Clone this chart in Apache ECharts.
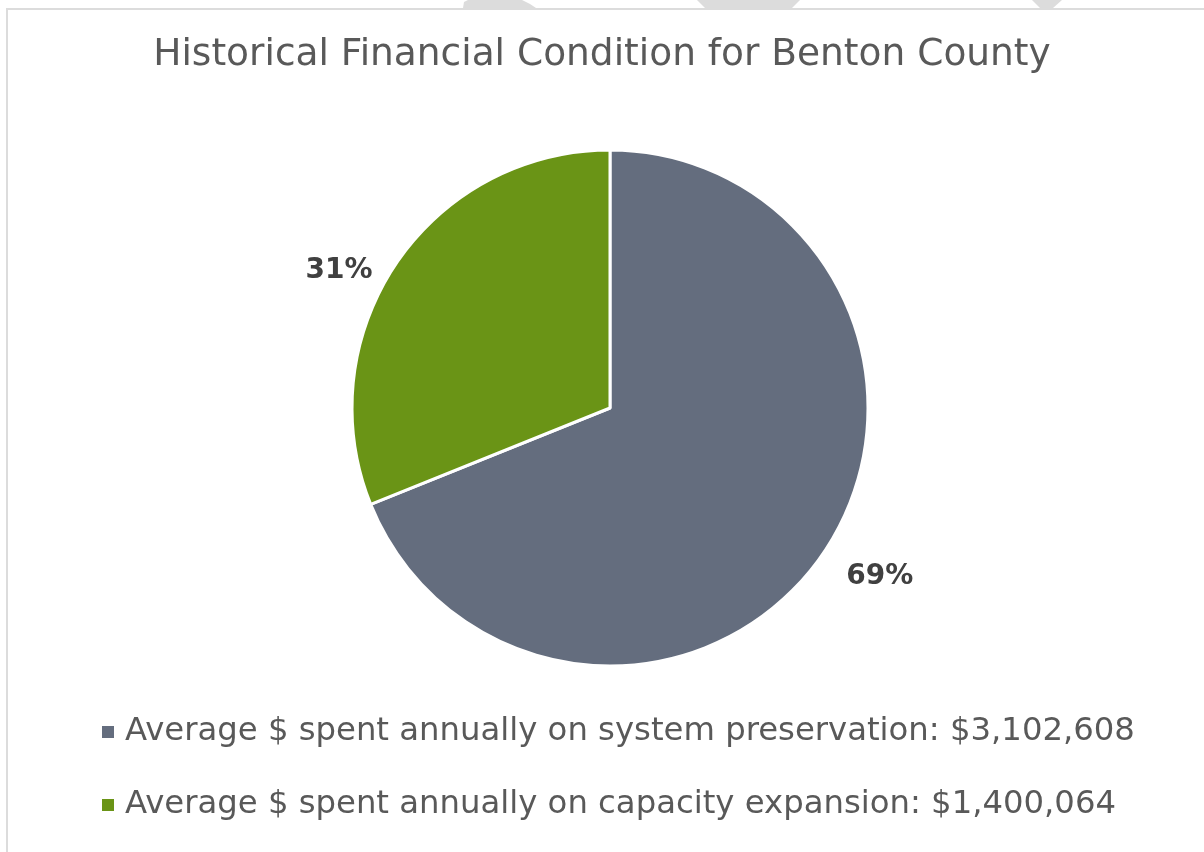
<!DOCTYPE html>
<html>
<head>
<meta charset="utf-8">
<style>
  html, body { margin: 0; padding: 0; background: #ffffff; }
  #chart { width: 1204px; height: 852px; }
</style>
<script src="https://cdn.jsdelivr.net/npm/echarts@6/dist/echarts.min.js"></script>
</head>
<body>
<div id="chart"></div>
<script>
// Spending categories and their annual averages (USD)
const categories = [
  'Average $ spent annually on system preservation: $3,102,608',
  'Average $ spent annually on capacity expansion: $1,400,064'
];
const amounts = [3102608, 1400064];
const sliceColors = ['#646d7e', '#6a9416'];
const titleText = 'Historical Financial Condition for Benton County';

const FONT = '"DejaVu Sans", Verdana, sans-serif';

// Per-slice label placement around the pie edge
const labelLines = [
  { length: 26, length2: 0 },
  { length: 2, length2: 14 }
];
const labelShift = [
  { dx: -4, dy: 10 },
  { dx: -3, dy: 8 }
];

const chart = echarts.init(document.getElementById('chart'), null, { renderer: 'canvas' });

chart.setOption({
  backgroundColor: '#ffffff',
  animation: false,
  title: {
    text: titleText,
    left: 'center',
    top: 31,
    textStyle: { fontFamily: FONT, fontSize: 37.5, fontWeight: 'normal', color: '#595959' }
  },
  legend: {
    orient: 'vertical',
    left: 100,
    top: 712,
    padding: 0,
    icon: 'rect',
    itemWidth: 14,
    itemHeight: 14,
    itemGap: 33,
    selectedMode: false,
    textStyle: {
      fontFamily: FONT,
      fontSize: 32.3,
      lineHeight: 40,
      color: '#595959',
      padding: [0, 0, 0, 5]
    },
    data: categories
  },
  graphic: [
    // Outer frame of the chart area
    {
      type: 'rect',
      z: -1,
      shape: { x: 7, y: 9, width: 1400, height: 1000 },
      style: { fill: '#ffffff', stroke: '#dcdcdc', lineWidth: 2 }
    },
    // Light grey shapes peeking above the frame
    {
      type: 'polygon', z: -2, silent: true,
      shape: { points: [[463, 8], [464, 2], [468, 0], [522, 0], [530, 4], [536, 8]] },
      style: { fill: '#dcdcdc', stroke: null, lineWidth: 0 }
    },
    {
      type: 'polygon', z: -2, silent: true,
      shape: { points: [[697, 0], [800, 0], [792, 8], [705, 8]] },
      style: { fill: '#dcdcdc', stroke: null, lineWidth: 0 }
    },
    {
      type: 'polygon', z: -2, silent: true,
      shape: { points: [[1032, 0], [1062, 0], [1053, 8], [1040, 8]] },
      style: { fill: '#dcdcdc', stroke: null, lineWidth: 0 }
    }
  ],
  series: [{
    type: 'pie',
    center: [610, 408],
    radius: [0, 258],
    startAngle: 90,
    clockwise: true,
    avoidLabelOverlap: false,
    itemStyle: { borderColor: '#ffffff', borderWidth: 3 },
    emphasis: { disabled: true },
    label: {
      show: true,
      position: 'outside',
      formatter: function (p) { return Math.round(p.percent) + '%'; },
      fontFamily: FONT,
      fontSize: 28,
      fontWeight: 'bold',
      color: '#404040'
    },
    labelLine: { show: false },
    labelLayout: function (p) {
      return { dx: labelShift[p.dataIndex].dx, dy: labelShift[p.dataIndex].dy };
    },
    data: categories.map(function (name, i) {
      return {
        name: name,
        value: amounts[i],
        itemStyle: { color: sliceColors[i] },
        labelLine: { show: false, length: labelLines[i].length, length2: labelLines[i].length2 }
      };
    })
  }]
});
</script>
</body>
</html>
